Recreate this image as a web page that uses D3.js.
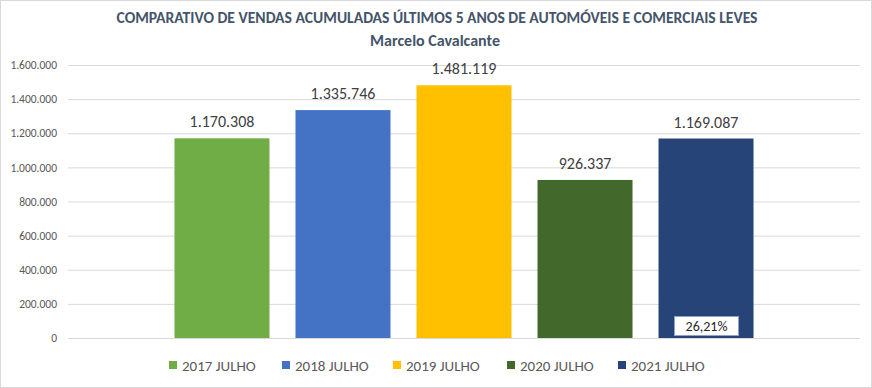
<!doctype html>
<html>
<head>
<script src="https://cdnjs.cloudflare.com/ajax/libs/d3/7.8.5/d3.min.js"></script>
<style>
body { margin: 0; background: #fff; }
text { font-family: Carlito, Calibri, Lato, sans-serif; }
</style>
</head>
<body>
<script>
// data
var series = ['2017 JULHO', '2018 JULHO', '2019 JULHO', '2020 JULHO', '2021 JULHO'];
var values = [1170308, 1335746, 1481119, 926337, 1169087];
var colors = ['#70AD47', '#4472C4', '#FFC000', '#43682B', '#264478'];
var yTicks = [0, 200000, 400000, 600000, 800000, 1000000, 1200000, 1400000, 1600000];
var growthLabel = '26,21%';

var width = 872, height = 388;
var plot = {left: 68, right: 860, top: 65, bottom: 338};

var svg = d3.select('body').append('svg').attr('width', width).attr('height', height);
svg.append('rect').attr('x', 0.5).attr('y', 0.5).attr('width', width - 1).attr('height', height - 1)
	.style('fill', '#fff').style('stroke', '#d9d9d9');

var ptBR = d3.formatLocale({decimal: ',', thousands: '.', grouping: [3], currency: ['R$', '']});
var fmt = ptBR.format(',d');

var x = d3.scaleBand().domain(series).range([plot.left, plot.right]).paddingInner(0.215).paddingOuter(0.88);
var y = d3.scaleLinear().domain([0, 1600000]).range([plot.bottom, plot.top]);

// grid + axis labels
var yAxis = d3.axisLeft(y).tickValues(yTicks).tickFormat(fmt).tickSize(-(plot.right - plot.left)).tickPadding(11);
var gY = svg.append('g').attr('transform', 'translate(' + plot.left + ',0)').call(yAxis);
gY.select('.domain').remove();
gY.selectAll('line').style('stroke', '#d9d9d9');
gY.selectAll('text').style('fill', '#595959').style('font-size', '11.5px');

// bars
svg.append('g').selectAll('rect').data(values).enter().append('rect')
	.attr('x', function(d, i) { return x(series[i]); })
	.attr('y', function(d) { return y(d); })
	.attr('width', x.bandwidth())
	.attr('height', function(d) { return y(0) - y(d); })
	.style('fill', function(d, i) { return colors[i]; });

// value labels
svg.append('g').selectAll('text').data(values).enter().append('text')
	.attr('x', function(d, i) { return x(series[i]) + x.bandwidth() / 2; })
	.attr('y', function(d) { return y(d) - 11; })
	.attr('text-anchor', 'middle')
	.style('font-size', '16px').style('fill', '#404040')
	.text(function(d) { return fmt(d); });

// growth label inside last bar
var lastX = x(series[4]) + x.bandwidth() / 2;
svg.append('rect').attr('x', lastX - 31.5).attr('y', 316.5).attr('width', 64).attr('height', 19)
	.style('fill', '#fff').style('stroke', '#8fa3c4');
svg.append('text').attr('x', lastX + 0.5).attr('y', 331).attr('text-anchor', 'middle')
	.style('font-size', '14px').style('fill', '#262626').text(growthLabel);

// title
var t1 = svg.append('text').attr('x', 437).attr('y', 23).attr('text-anchor', 'middle')
	.style('font-size', '16px').style('font-weight', 'bold').style('fill', '#44546A')
	.text('COMPARATIVO DE VENDAS ACUMULADAS ÚLTIMOS 5 ANOS DE AUTOMÓVEIS E COMERCIAIS LEVES');
t1.attr('textLength', 641).attr('lengthAdjust', 'spacingAndGlyphs');
svg.append('text').attr('x', 435).attr('y', 46).attr('text-anchor', 'middle')
	.style('font-size', '16px').style('font-weight', 'bold').style('fill', '#44546A')
	.text('Marcelo Cavalcante');

// legend
var legendX = [169, 282, 393, 507, 618];
var lg = svg.append('g').selectAll('g').data(series).enter().append('g')
	.attr('transform', function(d, i) { return 'translate(' + legendX[i] + ',361)'; });
lg.append('rect').attr('width', 8).attr('height', 8).style('fill', function(d, i) { return colors[i]; });
lg.append('text').attr('x', 13).attr('y', 9.5).style('font-size', '15px').style('fill', '#595959')
	.text(function(d) { return d; });
</script>
</body>
</html>
